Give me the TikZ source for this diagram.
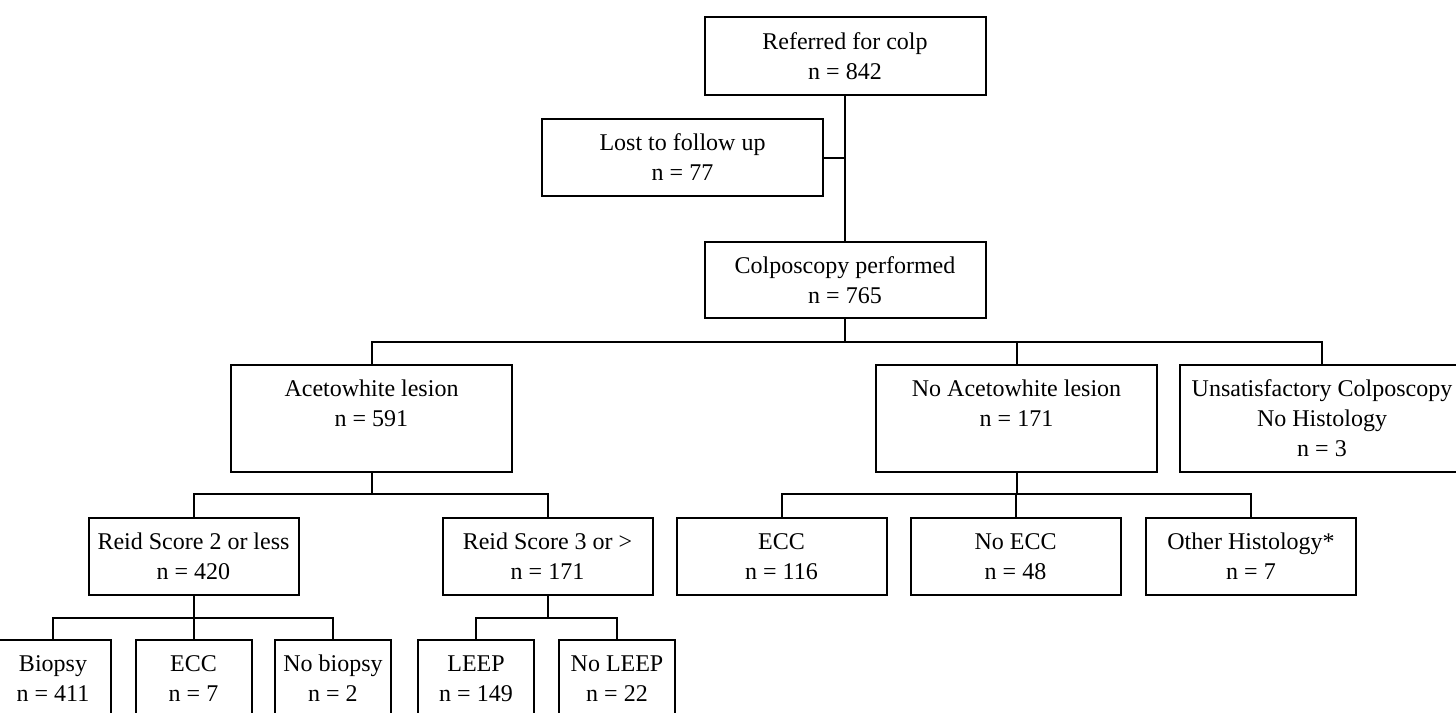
\documentclass[tikz,border=0pt]{standalone}
\usepackage{fontspec}
\setmainfont{Liberation Serif}
\usepackage{tikz}

\begin{document}
\begin{tikzpicture}[x=0.5pt,y=-0.5pt,
		box/.style={draw,line width=1pt,align=center,inner sep=0pt,minimum height=38.5pt,font=\fontsize{12}{15}\selectfont},
		wide/.style={box,minimum width=140.5pt},
		tall/.style={wide,minimum height=53.5pt},
		mid/.style={box,minimum width=105pt},
		small/.style={box,minimum width=58pt},
		link/.style={line width=1pt}]
		\useasboundingbox (0,0) rectangle (1456,712);
		\clip (0,0) rectangle (1456,712);
		%boxes
		\node (ref) [wide,minimum height=39pt] at (845,56) {Referred for colp\\n = 842};
		\node (lost) [wide] at (682.5,157.5) {Lost to follow up\\n = 77};
		\node (colp) [wide,minimum height=38pt] at (845,280) {Colposcopy performed\\n = 765};
		\node (aceto) [tall] at (371.5,418.5) {Acetowhite lesion\\n = 591\\\mbox{}};
		\node (noaceto) [tall] at (1016.5,418.5) {No Acetowhite lesion\\n = 171\\\mbox{}};
		\node (unsat) [tall,minimum width=142pt] at (1322,418.5) {Unsatisfactory Colposcopy\\No Histology\\n = 3};
		\node (reidlow) [mid] at (193.5,556.5) {Reid Score 2 or less\\n = 420};
		\node (reidhigh) [mid] at (547.5,556.5) {Reid Score 3 or >\\n = 171};
		\node (ecc) [mid] at (781.5,556.5) {ECC\\n = 116};
		\node (noecc) [mid] at (1015.5,556.5) {No ECC\\n = 48};
		\node (other) [mid] at (1251,556.5) {Other Histology*\\n = 7};
		\node (biopsy) [small] at (53,678.5) {Biopsy\\n = 411};
		\node (eccl) [small] at (193.5,678.5) {ECC\\n = 7};
		\node (nobiopsy) [small] at (333,678.5) {No biopsy\\n = 2};
		\node (leep) [small] at (476,678.5) {LEEP\\n = 149};
		\node (noleep) [small] at (617,678.5) {No LEEP\\n = 22};
		
		%junctions
		\coordinate (j1) at (845,342);
		\coordinate (j2) at (371.5,494);
		\coordinate (j3) at (1016.5,494);
		\coordinate (j4) at (193.5,618);
		\coordinate (j5) at (547.5,618);
		
		%connectors
		\draw[link] (ref) -- (colp);
		\draw[link] (lost) -- (lost -| ref.south);
		\draw[link] (colp) -- (j1);
		\draw[link] (aceto) |- (j1) -| (unsat);
		\draw[link] (noaceto) -- (noaceto |- j1);
		\draw[link] (aceto) -- (j2);
		\draw[link] (reidlow) |- (j2) -| (reidhigh);
		\draw[link] (noaceto) -- (j3);
		\draw[link] (ecc) |- (j3) -| (other);
		\draw[link] (noecc) -- (noecc |- j3);
		\draw[link] (reidlow) -- (j4);
		\draw[link] (biopsy) |- (j4) -| (nobiopsy);
		\draw[link] (eccl) -- (eccl |- j4);
		\draw[link] (reidhigh) -- (j5);
		\draw[link] (leep) |- (j5) -| (noleep);
	\end{tikzpicture}
\end{document}
